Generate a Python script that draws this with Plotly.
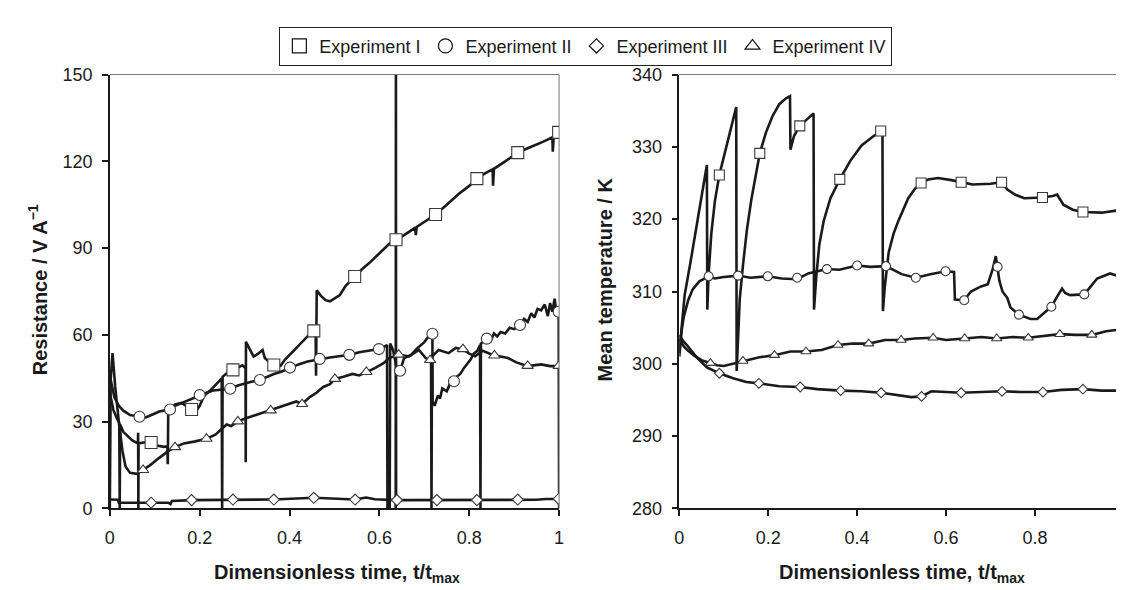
import plotly.graph_objects as go

# ---------------- Left panel: Resistance / V A^-1 ----------------
res_t_I = [0.000, 0.008, 0.016, 0.021, 0.022, 0.023, 0.030, 0.040, 0.050, 0.0625, 0.063, 0.0635, 0.064,
           0.075, 0.092, 0.105, 0.120, 0.128, 0.129, 0.130, 0.135, 0.145, 0.160, 0.170, 0.182, 0.190,
           0.200, 0.210, 0.225, 0.240, 0.249, 0.250, 0.251, 0.262, 0.274, 0.285, 0.295, 0.302, 0.3025,
           0.303, 0.310, 0.320, 0.330, 0.340, 0.345, 0.352, 0.365, 0.380, 0.390, 0.405, 0.420, 0.440,
           0.454, 0.458, 0.459, 0.4605, 0.470, 0.480, 0.490, 0.500, 0.512, 0.525, 0.545, 0.560, 0.578,
           0.593, 0.608, 0.622, 0.637, 0.655, 0.680, 0.681, 0.683, 0.700, 0.725, 0.750, 0.777, 0.800,
           0.817, 0.835, 0.852, 0.853, 0.855, 0.880, 0.908, 0.930, 0.946, 0.965, 0.985, 0.986, 0.988, 1.000]
res_I = [40.0, 34.0, 31.0, 29.5, 0.0, 29.0, 26.5, 25.0, 23.5, 22.5, 26.2, 0.0, 22.5,
         22.8, 22.8, 21.8, 21.3, 21.5, 15.3, 33.7, 34.5, 36.0, 36.5, 35.5, 34.2, 33.2,
         35.5, 39.0, 41.0, 43.5, 45.0, 0.0, 45.5, 47.0, 47.9, 48.5, 49.5, 48.5, 16.0,
         57.6, 55.5, 52.5, 53.5, 54.8, 52.0, 51.0, 49.6, 49.3, 51.5, 54.0, 56.5, 59.5,
         61.4, 62.0, 45.9, 75.4, 73.5, 72.0, 71.6, 72.5, 73.8, 77.0, 80.2, 82.5, 84.9,
         87.1, 89.4, 91.5, 92.9, 94.5, 97.1, 94.5, 97.3, 99.0, 101.6, 105.0, 108.8, 111.5,
         114.0, 115.8, 117.2, 111.6, 117.4, 120.0, 123.0, 124.5, 125.5, 126.8, 128.3, 123.3, 128.6, 130.0]

res_t_II = [0.000, 0.005, 0.010, 0.020, 0.030, 0.045, 0.066, 0.080, 0.095, 0.110, 0.125, 0.134, 0.145,
            0.160, 0.175, 0.190, 0.200, 0.215, 0.230, 0.250, 0.268, 0.285, 0.300, 0.315, 0.334, 0.350,
            0.365, 0.380, 0.401, 0.420, 0.440, 0.467, 0.490, 0.510, 0.533, 0.555, 0.575, 0.599, 0.610,
            0.617, 0.618, 0.623, 0.624, 0.630, 0.638, 0.646, 0.655, 0.670, 0.685, 0.700, 0.712, 0.718,
            0.7185, 0.723, 0.730, 0.735, 0.740, 0.750, 0.758, 0.766, 0.772, 0.780, 0.788, 0.795, 0.803,
            0.810, 0.818, 0.824, 0.825, 0.826, 0.839, 0.848, 0.855, 0.862, 0.870, 0.880, 0.890, 0.900,
            0.913, 0.922, 0.930, 0.938, 0.945, 0.952, 0.960, 0.968, 0.975, 0.980, 0.985, 0.990, 0.994,
            0.999, 1.000]
res_II = [46.0, 42.0, 38.5, 35.5, 33.8, 32.3, 31.7, 31.5, 32.5, 33.5, 34.0, 34.2, 35.5,
          36.5, 37.5, 38.5, 39.2, 40.0, 40.8, 41.2, 41.4, 42.5, 43.2, 43.8, 44.4, 45.5,
          46.5, 47.2, 48.7, 49.8, 50.8, 51.7, 52.2, 52.6, 53.1, 54.0, 54.6, 55.1, 55.8,
          56.5, 0.0, 0.0, 57.0, 55.0, 49.0, 47.6, 52.0, 53.0, 55.5, 57.5, 60.0, 60.4,
          37.0, 35.5, 39.0, 38.0, 41.5, 40.5, 43.5, 44.0, 45.5, 46.5, 48.5, 50.0, 51.5,
          53.5, 54.5, 56.5, 0.0, 57.0, 58.7, 58.0, 60.5, 59.5, 61.0, 60.5, 62.5, 62.0,
          63.4, 65.5, 64.5, 67.5, 66.0, 69.0, 68.5, 70.5, 66.5, 71.0, 68.0, 72.5, 68.0,
          69.0, 0.0]

res_t_III = [0.000, 0.005, 0.018, 0.020, 0.060, 0.092, 0.130, 0.135, 0.138, 0.182, 0.274, 0.365,
             0.454, 0.500, 0.546, 0.570, 0.590, 0.636, 0.6363, 0.6368, 0.6372, 0.639, 0.728, 0.817,
             0.908, 0.950, 0.970, 0.999]
res_III = [3.1, 3.0, 3.0, 2.0, 2.0, 2.0, 2.0, 1.5, 2.6, 2.9, 3.1, 3.1,
           3.7, 3.3, 3.1, 3.8, 3.2, 2.9, 0.0, 160.0, 3.0, 2.9, 2.9, 2.9,
           3.1, 3.0, 3.3, 3.3]

res_t_IV = [0.000, 0.002, 0.006, 0.012, 0.020, 0.028, 0.035, 0.045, 0.060, 0.074, 0.090, 0.110, 0.130,
            0.145, 0.165, 0.190, 0.215, 0.235, 0.250, 0.260, 0.270, 0.285, 0.300, 0.320, 0.340, 0.358,
            0.380, 0.400, 0.415, 0.428, 0.445, 0.460, 0.475, 0.490, 0.501, 0.520, 0.540, 0.555, 0.571,
            0.590, 0.610, 0.622, 0.643, 0.666, 0.688, 0.703, 0.713, 0.715, 0.716, 0.717, 0.732, 0.754,
            0.770, 0.786, 0.800, 0.813, 0.830, 0.845, 0.856, 0.870, 0.886, 0.905, 0.930, 0.960, 0.980, 1.000]
res_IV = [0.0, 45.0, 53.7, 42.0, 30.0, 20.0, 14.5, 12.3, 12.0, 13.3, 15.0, 17.5, 19.8,
          21.2, 22.5, 23.2, 24.1, 25.5, 27.5, 29.0, 28.5, 30.1, 31.0, 32.0, 33.0, 33.9,
          35.0, 36.0, 37.0, 36.1, 38.5, 40.0, 42.0, 43.0, 44.8, 45.5, 46.5, 46.0, 47.2,
          48.5, 50.3, 52.0, 53.1, 52.6, 54.8, 52.0, 51.2, 52.0, 0.0, 52.5, 54.8, 53.7,
          55.5, 55.0, 53.5, 52.6, 54.5, 53.5, 52.8, 52.5, 52.0, 50.5, 49.2, 49.8, 49.2, 49.2]

res_mk_t_I = [0.092, 0.182, 0.274, 0.365, 0.454, 0.545, 0.637, 0.725, 0.817, 0.908, 0.999]
res_mk_I = [22.8, 34.2, 47.9, 49.6, 61.4, 80.2, 92.9, 101.6, 114.0, 123.0, 130.0]
res_mk_t_II = [0.066, 0.134, 0.200, 0.268, 0.334, 0.401, 0.467, 0.533, 0.599, 0.646, 0.718, 0.766,
               0.839, 0.913, 0.999]
res_mk_II = [31.7, 34.2, 39.2, 41.4, 44.4, 48.7, 51.7, 53.1, 55.1, 47.6, 60.4, 44.0, 58.7, 63.4, 68.0]
res_mk_t_III = [0.092, 0.182, 0.274, 0.365, 0.454, 0.546, 0.639, 0.728, 0.817, 0.908, 0.999]
res_mk_III = [2.0, 2.9, 3.1, 3.1, 3.7, 3.1, 2.9, 2.9, 2.9, 3.1, 3.3]
res_mk_t_IV = [0.074, 0.145, 0.215, 0.285, 0.358, 0.428, 0.501, 0.571, 0.643, 0.713, 0.786, 0.856,
               0.930, 0.999]
res_mk_IV = [13.3, 21.2, 24.1, 30.1, 33.9, 36.1, 44.8, 47.2, 53.2, 51.3, 55.1, 52.9, 49.3, 49.3]

# ---------------- Right panel: Mean temperature / K ----------------
tmp_t_I = [0.000, 0.005, 0.012, 0.025, 0.040, 0.052, 0.062, 0.063, 0.066, 0.072, 0.080, 0.090, 0.100,
           0.110, 0.120, 0.128, 0.129, 0.132, 0.136, 0.143, 0.152, 0.162, 0.172, 0.181, 0.195, 0.210,
           0.225, 0.240, 0.249, 0.250, 0.258, 0.271, 0.287, 0.302, 0.303, 0.308, 0.315, 0.325, 0.340,
           0.361, 0.385, 0.410, 0.435, 0.453, 0.457, 0.458, 0.462, 0.471, 0.482, 0.493, 0.505, 0.515,
           0.530, 0.544, 0.560, 0.582, 0.612, 0.634, 0.660, 0.700, 0.725, 0.738, 0.755, 0.776, 0.817,
           0.840, 0.850, 0.864, 0.885, 0.908, 0.950, 0.984, 0.999]
tmp_I = [301.5, 305.0, 309.5, 314.0, 319.5, 323.5, 327.5, 307.5, 312.5, 318.0, 322.5, 326.1, 328.5,
         331.0, 333.5, 335.5, 299.0, 303.0, 309.0, 313.5, 318.5, 322.7, 326.3, 329.1, 332.0, 334.3,
         335.9, 336.7, 337.0, 329.6, 331.5, 332.9, 333.8, 334.6, 307.5, 312.0, 316.5, 319.8, 322.9,
         325.5, 328.1, 330.2, 331.4, 332.2, 332.3, 307.3, 310.5, 315.4, 318.0, 319.8, 321.6, 322.9,
         324.2, 325.0, 325.5, 325.7, 325.4, 325.1, 324.8, 324.9, 325.1, 324.1, 323.4, 322.9, 323.0,
         323.2, 323.4, 322.0, 321.3, 321.0, 320.9, 321.2, 320.5]

tmp_t_II = [0.000, 0.005, 0.010, 0.020, 0.030, 0.045, 0.066, 0.080, 0.100, 0.132, 0.160, 0.199, 0.230,
            0.265, 0.290, 0.332, 0.360, 0.400, 0.430, 0.465, 0.500, 0.532, 0.565, 0.599, 0.618, 0.620,
            0.641, 0.656, 0.679, 0.694, 0.705, 0.712, 0.720, 0.727, 0.738, 0.745, 0.764, 0.790, 0.805,
            0.823, 0.837, 0.852, 0.861, 0.868, 0.879, 0.911, 0.940, 0.969, 0.984, 0.999]
tmp_II = [301.0, 304.5, 306.5, 308.8, 310.3, 311.4, 312.1, 311.8, 312.0, 312.2, 311.9, 312.1, 311.8,
          311.7, 312.5, 313.1, 313.0, 313.6, 313.4, 313.5, 312.4, 311.9, 312.4, 312.8, 312.7, 308.9,
          308.8, 310.0, 310.7, 311.0, 313.1, 314.9, 311.5, 310.0, 309.1, 307.8, 306.8, 306.2, 306.2,
          307.1, 307.9, 309.5, 310.4, 309.8, 309.5, 309.6, 311.8, 312.5, 312.2, 312.5]

tmp_t_III = [0.000, 0.008, 0.017, 0.039, 0.062, 0.090, 0.121, 0.151, 0.179, 0.225, 0.272, 0.310, 0.363,
             0.410, 0.454, 0.493, 0.522, 0.545, 0.567, 0.600, 0.634, 0.680, 0.726, 0.770, 0.818, 0.860,
             0.908, 0.950, 0.999]
tmp_III = [304.0, 303.2, 302.6, 300.9, 299.5, 298.7, 298.0, 297.5, 297.3, 296.9, 296.8, 296.5, 296.3,
           296.2, 296.0, 295.7, 295.4, 295.5, 296.2, 296.1, 296.0, 296.1, 296.2, 296.1, 296.1, 296.4,
           296.5, 296.3, 296.3]

tmp_t_IV = [0.000, 0.010, 0.020, 0.032, 0.050, 0.070, 0.085, 0.100, 0.120, 0.143, 0.180, 0.214, 0.250,
            0.285, 0.320, 0.357, 0.390, 0.426, 0.463, 0.499, 0.530, 0.571, 0.600, 0.642, 0.680, 0.714,
            0.750, 0.785, 0.820, 0.856, 0.890, 0.928, 0.960, 0.985, 0.999]
tmp_IV = [303.5, 302.4, 301.8, 301.2, 300.5, 300.1, 299.8, 299.7, 300.0, 300.4, 300.9, 301.2, 301.7,
          301.7, 301.9, 302.6, 302.8, 302.8, 303.3, 303.3, 303.5, 303.6, 303.3, 303.5, 303.7, 303.5,
          303.7, 303.6, 303.8, 304.1, 304.0, 304.0, 304.5, 304.7, 304.6]

tmp_mk_t_I = [0.090, 0.181, 0.271, 0.361, 0.453, 0.544, 0.634, 0.725, 0.817, 0.908, 0.999]
tmp_mk_I = [326.1, 329.1, 332.9, 325.5, 332.2, 325.0, 325.1, 325.1, 323.0, 321.0, 320.5]
tmp_mk_t_II = [0.066, 0.132, 0.199, 0.265, 0.332, 0.400, 0.465, 0.532, 0.599, 0.641, 0.716, 0.764,
               0.837, 0.911, 0.999]
tmp_mk_II = [312.1, 312.2, 312.1, 311.9, 313.1, 313.6, 313.5, 311.9, 312.8, 308.8, 313.4, 306.8,
             307.9, 309.6, 312.5]
tmp_mk_t_III = [0.090, 0.179, 0.272, 0.363, 0.454, 0.545, 0.634, 0.726, 0.818, 0.908, 0.999]
tmp_mk_III = [298.7, 297.3, 296.8, 296.3, 296.0, 295.5, 296.0, 296.2, 296.1, 296.5, 296.3]
tmp_mk_t_IV = [0.070, 0.143, 0.214, 0.285, 0.357, 0.426, 0.499, 0.571, 0.642, 0.714, 0.785, 0.856,
               0.928, 0.999]
tmp_mk_IV = [300.1, 300.4, 301.2, 301.7, 302.6, 302.8, 303.3, 303.6, 303.5, 303.5, 303.6, 304.1,
             304.0, 303.3]

series_names = ["Experiment I", "Experiment II", "Experiment III", "Experiment IV"]
x_ticks = [0, 0.2, 0.4, 0.6, 0.8, 1]
x_tick_text = ["0", "0.2", "0.4", "0.6", "0.8", "1"]
res_ticks = [0, 30, 60, 90, 120, 150]
tmp_ticks = [280, 290, 300, 310, 320, 330, 340]

# ---------------- styles ----------------
FONT = "Liberation Sans, Arial, Helvetica, sans-serif"
INK = "#1a1a1a"
LINE_W = 2.6
symbols = ["square", "circle", "diamond", "triangle-up"]
left_sizes = [12, 11, 8.5, 10]
right_sizes = [10, 9, 7.5, 9]
legend_sizes = [14, 14, 11, 13]

fig = go.Figure()

left_lines = [(res_t_I, res_I), (res_t_II, res_II), (res_t_III, res_III), (res_t_IV, res_IV)]
right_lines = [(tmp_t_I, tmp_I), (tmp_t_II, tmp_II), (tmp_t_III, tmp_III), (tmp_t_IV, tmp_IV)]
left_marks = [(res_mk_t_I, res_mk_I), (res_mk_t_II, res_mk_II), (res_mk_t_III, res_mk_III),
              (res_mk_t_IV, res_mk_IV)]
right_marks = [(tmp_mk_t_I, tmp_mk_I), (tmp_mk_t_II, tmp_mk_II), (tmp_mk_t_III, tmp_mk_III),
               (tmp_mk_t_IV, tmp_mk_IV)]

for (xs, ys) in left_lines:
    fig.add_trace(go.Scatter(x=xs, y=ys, mode="lines", line=dict(color=INK, width=LINE_W),
                             showlegend=False, hoverinfo="skip", xaxis="x", yaxis="y"))
for (xs, ys) in right_lines:
    fig.add_trace(go.Scatter(x=xs, y=ys, mode="lines", line=dict(color=INK, width=LINE_W),
                             showlegend=False, hoverinfo="skip", xaxis="x2", yaxis="y2"))

for i, (xs, ys) in enumerate(left_marks):
    fig.add_trace(go.Scatter(x=xs, y=ys, mode="markers", name=series_names[i], legendgroup=series_names[i],
                             marker=dict(symbol=symbols[i], size=left_sizes[i], color="white",
                                         line=dict(color="#3a3a3a", width=1.1)),
                             showlegend=False, xaxis="x", yaxis="y"))
for i, (xs, ys) in enumerate(right_marks):
    fig.add_trace(go.Scatter(x=xs, y=ys, mode="markers", name=series_names[i], legendgroup=series_names[i],
                             marker=dict(symbol=symbols[i], size=right_sizes[i], color="white",
                                         line=dict(color="#3a3a3a", width=1.1)),
                             showlegend=False, xaxis="x2", yaxis="y2"))

# legend-only entries (larger symbols, like the reference key)
for i, name in enumerate(series_names):
    fig.add_trace(go.Scatter(x=[None], y=[None], mode="markers", name=name, legendgroup=name,
                             marker=dict(symbol=symbols[i], size=legend_sizes[i], color="white",
                                         line=dict(color="#111", width=1.2)),
                             showlegend=True, legendrank=i + 1, xaxis="x", yaxis="y"))

W, H = 1124, 590
xl = [97.7 / W, 551.0 / W]
xr = [672.3 / W, 1120.8 / W]
yd = [(H - 507.7) / H, (H - 58.5) / H]

axis_common = dict(showgrid=False, zeroline=False, showline=True, linecolor=INK, linewidth=1.5,
                   ticks="outside", ticklen=6, tickwidth=1.5, tickcolor=INK,
                   tickfont=dict(family=FONT, size=18, color=INK))

fig.update_layout(
    width=W, height=H,
    margin=dict(l=0, r=0, t=0, b=0),
    paper_bgcolor="white", plot_bgcolor="white",
    font=dict(family=FONT, color=INK),
    xaxis=dict(domain=xl, range=[0, 1], tickvals=x_ticks, ticktext=x_tick_text, anchor="y",
               ticklabelstandoff=6, **axis_common),
    yaxis=dict(domain=yd, range=[0, 150], tickvals=res_ticks, anchor="x", ticklabelstandoff=6,
               **axis_common),
    xaxis2=dict(domain=xr, range=[0, 1], tickvals=x_ticks, ticktext=x_tick_text, anchor="y2",
                ticklabelstandoff=6, **axis_common),
    yaxis2=dict(domain=yd, range=[280, 340], tickvals=tmp_ticks, anchor="x2", ticklabelstandoff=6,
                **axis_common),
    legend=dict(orientation="h", x=578 / W, xanchor="center", y=1 - 9 / H, yanchor="top",
                bgcolor="white", bordercolor="#222", borderwidth=1,
                font=dict(family=FONT, size=18, color=INK), itemsizing="trace"),
    showlegend=True,
)

# thin frame on top/right of each panel
for xr_, yr_ in (("x domain", "y domain"), ("x2 domain", "y2 domain")):
    fig.add_shape(type="line", xref=xr_, yref=yr_, x0=0, x1=1, y0=1, y1=1,
                  line=dict(color="#777", width=1))
    fig.add_shape(type="line", xref=xr_, yref=yr_, x0=1, x1=1, y0=0, y1=1,
                  line=dict(color="#777", width=1))

title_font = dict(family=FONT, size=20, color=INK)
fig.add_annotation(text="<b>Resistance / V A<sup>\u22121</sup></b>", xref="paper", yref="paper",
                   x=25 / W, y=(H - 281) / H, textangle=-90, showarrow=False, font=title_font,
                   xanchor="center", yanchor="middle")
fig.add_annotation(text="<b>Mean temperature / K</b>", xref="paper", yref="paper",
                   x=597 / W, y=(H - 271) / H, textangle=-90, showarrow=False, font=title_font,
                   xanchor="center", yanchor="middle")
for cx in (326.5, 897.0):
    fig.add_annotation(text="<b>Dimensionless time, t/t<sub>max</sub></b>", xref="paper", yref="paper",
                       x=cx / W, y=(H - 575) / H, showarrow=False, font=title_font,
                       xanchor="center", yanchor="middle")

fig.write_html("out.html")
